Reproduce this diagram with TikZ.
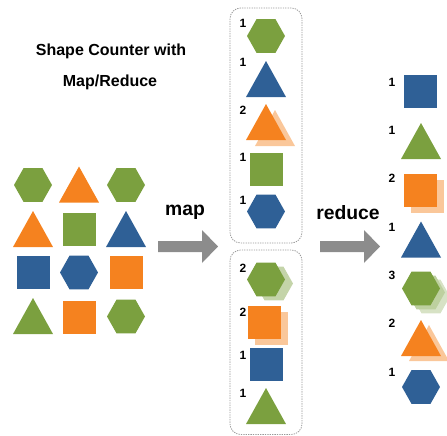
\documentclass[tikz,border=0pt]{standalone}
\usepackage{fontspec}
\setmainfont{Liberation Sans}
\begin{document}
\begin{tikzpicture}[x=0.75pt,y=-0.75pt,
  every node/.style={inner sep=0pt,font=\bfseries},
  cnt/.style={font=\fontsize{9}{10}\selectfont\bfseries},
  ttl/.style={font=\fontsize{12}{14}\selectfont\bfseries},
  big/.style={font=\fontsize{14.5}{16}\selectfont\bfseries},
  grp/.style={draw=black!40,dash pattern=on 1pt off 0.8pt,line width=0.6pt,rounded corners=8pt},
  garrow/.style={fill=black!45},
  pics/hexa/.style={code={\fill[#1] (-19,0)--(-9.5,-16.8)--(9.5,-16.8)--(19,0)--(9.5,16.8)--(-9.5,16.8)--cycle;}},
  pics/tri/.style={code={\fill[#1] (-20,18)--(0,-18)--(20,18)--cycle;}},
  pics/sq/.style={code={\fill[#1] (-16.5,-16.5) rectangle (16.5,16.5);}}
]
\definecolor{cg}{HTML}{7BA03F}
\definecolor{co}{HTML}{F5821F}
\definecolor{cb}{HTML}{2F6096}
\useasboundingbox (0,0) rectangle (447,436);

% title
\node[ttl] (t1) at (111,51) {Shape Counter with};
\node[ttl] (t2) at (110,82) {Map/Reduce};

% left grid
\pic at (33,185) {hexa=cg};
\pic at (79,184.5) {tri=co};
\pic at (126,185) {hexa=cg};
\pic at (33,229) {tri=co};
\pic at (79,229) {sq=cg};
\pic at (126,229) {tri=cb};
\pic at (33,272) {sq=cb};
\pic at (79,272.5) {hexa=cb};
\pic at (126,272) {sq=co};
\pic at (33,316) {tri=cg};
\pic at (79,317.5) {sq=co};
\pic at (126,316.5) {hexa=cg};

% arrows
\node[big] (map) at (185,212) {map};
\fill[garrow] (158,241)--(202,241)--(202,230)--(218,246.5)--(202,263)--(202,252)--(158,252)--cycle;
\node[big] (red) at (348,213) {reduce};
\fill[garrow] (320,241)--(364,241)--(364,230)--(380,246.5)--(364,263)--(364,252)--(320,252)--cycle;

% map boxes
\draw[grp] (230,8) rectangle (302,243);
\draw[grp] (230,250) rectangle (302,434.5);

% upper box
\node[cnt] (u1) at (243,23) {1};
\pic at (266,36) {hexa=cg};
\node[cnt] (u2) at (243,62) {1};
\pic at (266,79) {tri=cb};
\node[cnt] (u3) at (243,110) {2};
\pic at (275,128) {tri={co!45!white}};
\pic at (266,122) {tri=co};
\node[cnt] (u4) at (243,157) {1};
\pic at (266,169) {sq=cg};
\node[cnt] (u5) at (243,200) {1};
\pic at (266,211.5) {hexa=cb};

% lower box
\node[cnt] (l1) at (243,268) {2};
\pic at (274,283.5) {hexa={cg!45!white}};
\pic at (266,279.5) {hexa=cg};
\node[cnt] (l2) at (243,312) {2};
\pic at (271.5,328) {sq={co!45!white}};
\pic at (264.5,322) {sq=co};
\node[cnt] (l3) at (243,355) {1};
\pic at (266,364.5) {sq=cb};
\node[cnt] (l4) at (243,393) {1};
\pic at (266,406) {tri=cg};

% reduce column
\node[cnt] (r1) at (392,82) {1};
\pic at (420.5,91) {sq=cb};
\node[cnt] (r2) at (392,130) {1};
\pic at (421,141) {tri=cg};
\node[cnt] (r3) at (392,178) {2};
\pic at (427.5,196) {sq={co!45!white}};
\pic at (420.5,190) {sq=co};
\node[cnt] (r4) at (392,227) {1};
\pic at (421,239.5) {tri=cb};
\node[cnt] (r5) at (392,275) {3};
\pic at (431,296.5) {hexa={cg!30!white}};
\pic at (426,292.5) {hexa={cg!50!white}};
\pic at (421,288.5) {hexa=cg};
\node[cnt] (r6) at (392,323) {2};
\pic at (429,343) {tri={co!45!white}};
\pic at (421,338) {tri=co};
\node[cnt] (r7) at (392,372) {1};
\pic at (421,387) {hexa=cb};
\end{tikzpicture}
\end{document}
